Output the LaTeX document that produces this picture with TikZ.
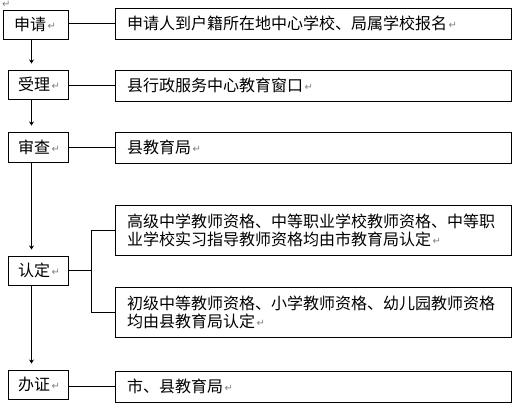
\documentclass[tikz,border=0pt]{standalone}
\usepackage{fontspec}
\setmainfont{Noto Sans CJK SC}
\newfontfamily\symfont{DejaVu Sans}
\usepackage{tikz}
\usetikzlibrary{positioning, arrows.meta, calc}
\usepackage{xcolor}

\newcommand{\retmark}{{\symfont\fontsize{10}{10}\selectfont\color{gray}\,\raisebox{1pt}{↵}}}

\begin{document}
\begin{tikzpicture}[x=1pt, y=-1pt, line width=1pt,
    stagebox/.style={draw, minimum height=29pt, inner xsep=10pt, inner ysep=0pt,
        text width=40pt, align=left, font=\fontsize{16}{18}\selectfont},
    infobox/.style={draw, minimum height=31pt, inner xsep=12pt, inner ysep=0pt,
        text width=372pt, align=left, font=\fontsize{16}{18}\selectfont},
    flow/.style={-{Stealth[length=4pt, width=5pt]}, shorten >=6pt}]
            \useasboundingbox (0,0) rectangle (519,408);
            \node[inner sep=0pt, anchor=north west] (mark0) at (0,0.5) {\retmark};

            % left column
            \node[stagebox, text width=43pt, inner xsep=11pt] (apply) at (35.5,24.5) {申请\retmark};
            \node[stagebox] (accept) at (38,84.5) {受理\retmark};
            \node[stagebox, minimum height=30pt] (review) at (38,147) {审查\retmark};
            \node[stagebox] (confirm) at (38,270.5) {认定\retmark};
            \node[stagebox] (issue) at (38,384.5) {办证\retmark};

            % right column
            \node[infobox] (where) at (313,23.5) {申请人到户籍所在地中心学校、局属学校报名\retmark};
            \node[infobox] (window) at (313,85.5) {县行政服务中心教育窗口\retmark};
            \node[infobox] (bureau) at (313,147.5) {县教育局\retmark};
            \node[infobox, minimum height=50pt] (senior) at (313,230)
                {高级中学教师资格、中等职业学校教师资格、中等职\\业学校实习指导教师资格均由市教育局认定\retmark};
            \node[infobox, minimum height=50pt] (junior) at (313,312)
                {初级中等教师资格、小学教师资格、幼儿园教师资格\\均由县教育局认定\retmark};
            \node[infobox] (issuer) at (313,386.5) {市、县教育局\retmark};

            \coordinate (axis) at (31.5,0);
            \coordinate (fork) at (91.5,270.5);

            \draw[flow] (apply.south -| axis) -- (accept.north -| axis);
            \draw[flow] (accept.south -| axis) -- (review.north -| axis);
            \draw[flow] (review.south -| axis) -- (confirm.north -| axis);
            \draw[flow] (confirm.south -| axis) -- (issue.north -| axis);

            \draw (apply.east |- where.west) -- (where.west);
            \draw (accept.east |- window.west) -- (window.west);
            \draw (review.east |- bureau.west) -- (bureau.west);
            \draw (confirm.east) -- (fork);
            \draw (senior.west) -| (fork) |- (junior.west);
            \draw (issue.east |- issuer.west) -- (issuer.west);
        \end{tikzpicture}
\end{document}
